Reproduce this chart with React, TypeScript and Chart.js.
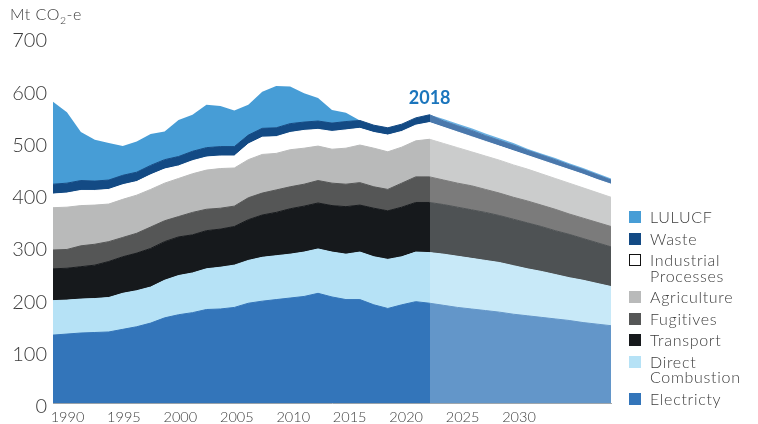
import React, { useEffect, useRef } from 'react';
import { Chart, registerables } from 'chart.js';

Chart.register(...registerables);

// ---------- data ----------
const YEARS = [
  1990, 1991, 1992, 1993, 1994, 1995, 1996, 1997, 1998, 1999,
  2000, 2001, 2002, 2003, 2004, 2005, 2006, 2007, 2008, 2009,
  2010, 2011, 2012, 2013, 2014, 2015, 2016, 2017, 2018, 2019,
  2020, 2021, 2022, 2023, 2024, 2025, 2026, 2027, 2028, 2029,
  2030,
];
const BREAK_YEAR = 2017; // last historical point; projection starts here
const BREAK_LABEL = '2018';
const X_TICK_LABELS = [1990, 1995, 2000, 2005, 2010, 2015, 2020, 2025, 2030];
const Y_TICKS = [0, 100, 200, 300, 400, 500, 600, 700];

const ELECTRICITY = [
  131, 133, 135, 136, 137, 142, 147, 154, 164, 170,
  174, 180, 181, 184, 192, 196, 199, 202, 205, 211,
  204, 199, 199, 189, 182, 189, 195, 192, 188, 184,
  181, 178, 175, 171, 168, 165, 162, 159, 155, 152,
  149,
];
const DIRECT_COMBUSTION = [
  66, 65, 65, 65, 66, 69, 69, 69, 72, 75,
  76, 78, 80, 81, 82, 84, 84, 84, 85, 85,
  86, 87, 91, 92, 94, 92, 95, 97, 98, 98,
  97, 96, 95, 93, 90, 88, 85, 82, 81, 78,
  75,
];
const TRANSPORT = [
  61, 61, 62, 64, 69, 70, 72, 74, 74, 74,
  73, 73, 73, 74, 78, 81, 83, 87, 88, 88,
  89, 91, 90, 93, 93, 95, 95, 96, 95, 94,
  93, 92, 90, 89, 88, 86, 84, 83, 80, 78,
  76,
];
const FUGITIVES = [
  36, 36, 40, 40, 38, 37, 38, 41, 40, 39,
  43, 41, 40, 39, 42, 42, 43, 42, 42, 43,
  43, 43, 43, 41, 41, 46, 49, 49, 47, 46,
  46, 44, 43, 42, 42, 41, 41, 39, 39, 39,
  39,
];
const AGRICULTURE = [
  81, 81, 77, 75, 72, 73, 73, 72, 72, 73,
  74, 75, 76, 73, 73, 74, 70, 71, 69, 66,
  65, 69, 72, 74, 72, 69, 69, 72, 70, 68,
  65, 64, 63, 62, 61, 60, 59, 59, 58, 57,
  56,
];
const INDUSTRIAL_PROCESSES = [
  26, 27, 29, 28, 28, 28, 26, 28, 27, 24,
  25, 25, 24, 23, 30, 33, 32, 33, 34, 32,
  34, 35, 32, 30, 32, 30, 30, 32, 31, 30,
  29, 28, 27, 27, 26, 26, 26, 26, 26, 25,
  25,
];
const WASTE = [
  19, 19, 19, 18, 18, 18, 18, 18, 18, 18,
  18, 18, 18, 18, 17, 17, 17, 17, 16, 16,
  16, 16, 15, 14, 14, 14, 14, 15, 12, 12,
  12, 11, 11, 11, 10, 10, 10, 9, 9, 9,
  8,
];
const LULUCF = [
  158, 136, 93, 79, 71, 56, 59, 60, 54, 70,
  70, 82, 78, 69, 58, 70, 80, 71, 55, 44,
  25, 17, 0, 0, 0, 0, 0, 0, 4, 4,
  4, 4, 4, 4, 3, 3, 3, 3, 3, 3,
  3,
];

// bottom -> top stacking order
const SERIES = [
  { label: 'Electricty', values: ELECTRICITY, color: '#3375BA', proj: '#6396C9', border: 1 },
  { label: 'Direct\nCombustion', values: DIRECT_COMBUSTION, color: '#B6E2F6', proj: '#C8E9F8', border: 1 },
  { label: 'Transport', values: TRANSPORT, color: '#16191C', proj: '#4E5254', border: 1 },
  { label: 'Fugitives', values: FUGITIVES, color: '#555656', proj: '#7B7B7B', border: 1 },
  { label: 'Agriculture', values: AGRICULTURE, color: '#B9BABA', proj: '#CBCCCC', border: 1 },
  { label: 'Industrial\nProcesses', values: INDUSTRIAL_PROCESSES, color: '#FFFFFF', proj: '#FFFFFF', border: 1 },
  { label: 'Waste', values: WASTE, color: '#134A84', proj: '#4A78AC', border: 1 },
  { label: 'LULUCF', values: LULUCF, color: '#479DD6', proj: '#6DB2E2', border: 0 },
];

const FONT = 'Lato, "Open Sans", sans-serif';
const TEXT_COLOR = '#3c3c3c';

export default function App() {
  const canvasRef = useRef<HTMLCanvasElement | null>(null);

  useEffect(() => {
    const canvas = canvasRef.current;
    if (!canvas) return;
    const breakIdx = YEARS.indexOf(BREAK_YEAR);

    // horizontal gradient with a hard stop at the historical/projection break
    const splitColor = (hist: string, proj: string) => (c: any) => {
      const chart = c.chart;
      const area = chart.chartArea;
      const xs = chart.scales && chart.scales.x;
      if (!area || !xs) return hist;
      const bx = xs.getPixelForValue(BREAK_YEAR);
      const f = Math.min(1, Math.max(0, (bx - area.left) / (area.right - area.left)));
      const g = chart.ctx.createLinearGradient(area.left, 0, area.right, 0);
      g.addColorStop(0, hist);
      g.addColorStop(f, hist);
      g.addColorStop(f, proj);
      g.addColorStop(1, proj);
      return g;
    };

    const datasets = SERIES.map((s, k) => ({
      label: s.label,
      data: s.values.map((v, i) => ({ x: YEARS[i], y: v })),
      xAxisID: 'x',
      yAxisID: 'y',
      fill: k === 0 ? 'origin' : '-1',
      backgroundColor: splitColor(s.color, s.proj),
      borderColor: splitColor(s.color, s.proj),
      borderWidth: s.border,
      pointRadius: 0,
      pointHoverRadius: 0,
      tension: 0,
    }));

    const breakLabelPlugin = {
      id: 'breakLabel',
      afterDatasetsDraw(chart: any) {
        const { ctx, scales } = chart;
        const total = SERIES.reduce((acc, s) => acc + s.values[breakIdx], 0);
        const x = scales.x.getPixelForValue(BREAK_YEAR);
        const y = scales.y.getPixelForValue(total) - 17;
        ctx.save();
        ctx.font = `bold 18px ${FONT}`;
        ctx.fillStyle = '#1B75BC';
        ctx.textAlign = 'center';
        ctx.textBaseline = 'middle';
        ctx.fillText(BREAK_LABEL, x, y);
        ctx.restore();
      },
    };

    const chart = new Chart(canvas, {
      type: 'line',
      data: { datasets: datasets as any },
      options: {
        responsive: false,
        animation: false,
        devicePixelRatio: 1,
        events: [],
        layout: { padding: { top: 38, right: 147, bottom: 0, left: 0 } },
        plugins: {
          legend: { display: false },
          tooltip: { enabled: false },
          title: { display: false },
        },
        scales: {
          x: { type: 'linear', min: 1990, max: 2030, display: false },
          xl: {
            type: 'linear',
            position: 'bottom',
            min: 1988.716,
            max: 2038.149,
            grid: { display: false, drawTicks: false },
            border: { display: true, color: '#A8A8A8', width: 1 },
            ticks: {
              padding: 5,
              color: TEXT_COLOR,
              font: { family: FONT, size: 14.5, weight: '300' as any },
              maxRotation: 0,
              autoSkip: false,
              callback: (v: any) => String(v),
            },
            afterBuildTicks: (scale: any) => {
              scale.ticks = X_TICK_LABELS.map((v) => ({ value: v }));
            },
            afterFit: (scale: any) => {
              scale.height = 20.5;
            },
          },
          y: {
            stacked: true,
            min: 0,
            max: 700,
            grid: { display: false, drawTicks: false },
            border: { display: false },
            ticks: {
              padding: 6,
              labelOffset: 3,
              color: TEXT_COLOR,
              font: { family: FONT, size: 20, weight: '300' as any },
              callback: (v: any) => String(v),
            },
            afterBuildTicks: (scale: any) => {
              scale.ticks = Y_TICKS.map((v) => ({ value: v }));
            },
            afterFit: (scale: any) => {
              scale.width = 53;
            },
          },
        } as any,
      },
      plugins: [breakLabelPlugin],
    });

    return () => chart.destroy();
  }, []);

  const legendItems = [...SERIES].reverse();

  return (
    <div
      style={{
        position: 'fixed',
        left: 0,
        top: 0,
        width: 758,
        height: 424,
        overflow: 'hidden',
        background: '#fff',
        fontFamily: FONT,
      }}
    >
      <canvas ref={canvasRef} width={758} height={424} style={{ position: 'absolute', left: 0, top: 0 }} />
      <div
        style={{
          position: 'absolute',
          left: 10,
          top: 5,
          fontSize: 16,
          lineHeight: '18px',
          color: TEXT_COLOR,
          fontWeight: 300,
          letterSpacing: 0.5,
          whiteSpace: 'nowrap',
        }}
      >
        Mt CO<sub style={{ fontSize: 10.5, verticalAlign: 'sub', lineHeight: 0 }}>2</sub>-e
      </div>
      <div
        style={{
          position: 'absolute',
          left: 629,
          top: 209,
          display: 'flex',
          flexDirection: 'column',
          gap: 6,
        }}
      >
        {legendItems.map((s) => (
          <div key={s.label} style={{ display: 'flex', alignItems: 'flex-start' }}>
            <span
              style={{
                width: 12,
                height: 12,
                marginTop: 2,
                boxSizing: 'border-box',
                background: s.color,
                border: s.color === '#FFFFFF' ? '1.5px solid #111' : 'none',
                flex: '0 0 auto',
              }}
            />
            <span
              style={{
                marginLeft: 9,
                fontSize: 16,
                lineHeight: '15.5px',
                color: TEXT_COLOR,
                fontWeight: 300,
                letterSpacing: 0.7,
                whiteSpace: 'pre-line',
              }}
            >
              {s.label}
            </span>
          </div>
        ))}
      </div>
    </div>
  );
}
